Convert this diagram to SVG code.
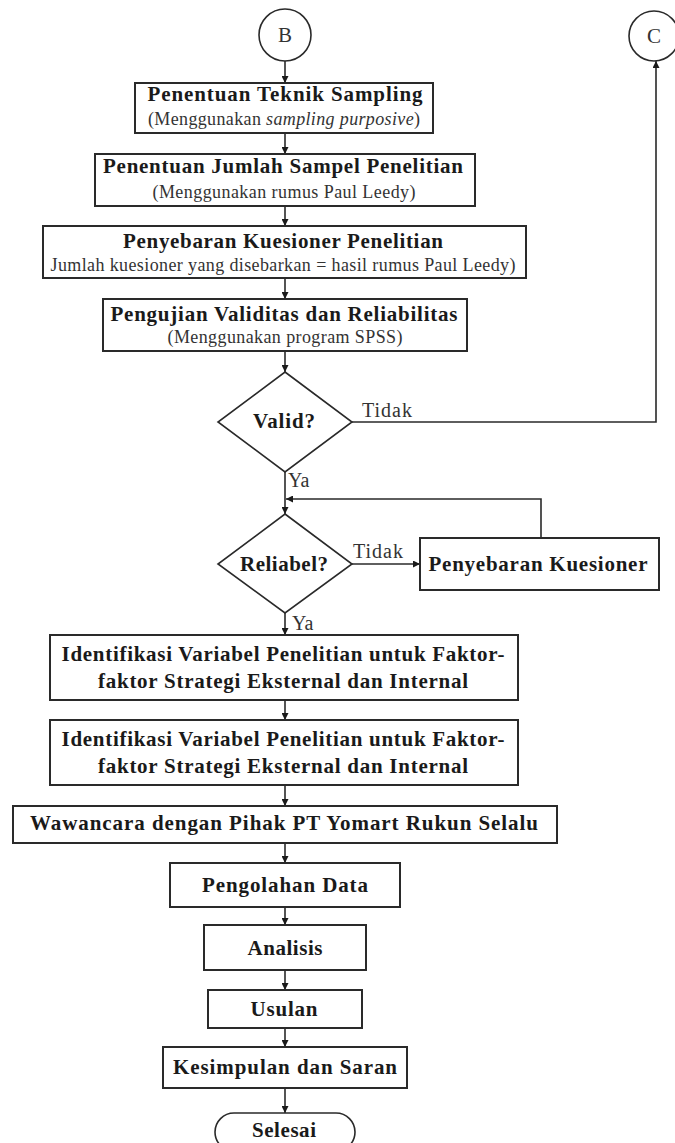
<svg xmlns="http://www.w3.org/2000/svg" width="675" height="1143" viewBox="0 0 675 1143">
<style>
.box{fill:#fff;stroke:#2a2a2a;stroke-width:2}
.ln{fill:none;stroke:#2a2a2a;stroke-width:1.6}
.h{font-family:"Liberation Serif",serif;font-weight:bold;font-size:21px;fill:#1a1a1a;text-anchor:middle}
.s{font-family:"Liberation Serif",serif;font-size:18px;fill:#333;text-anchor:middle}
.l{font-family:"Liberation Serif",serif;font-size:20px;fill:#333}
</style>
<defs>
<marker id="ah" viewBox="0 0 10 10" refX="10" refY="5" markerWidth="7" markerHeight="7" orient="auto" markerUnits="userSpaceOnUse">
<path d="M0,0 L10,5 L0,10 z" fill="#1a1a1a"/>
</marker>
</defs>
<g id="connectors">
<path class="ln" d="M285,61 V83" marker-end="url(#ah)"/>
<path class="ln" d="M285,133 V154" marker-end="url(#ah)"/>
<path class="ln" d="M285,206 V226" marker-end="url(#ah)"/>
<path class="ln" d="M285,278 V299" marker-end="url(#ah)"/>
<path class="ln" d="M285,351 V372" marker-end="url(#ah)"/>
<path class="ln" d="M352,422 H656 V61" marker-end="url(#ah)"/>
<path class="ln" d="M285,472 V514" marker-end="url(#ah)"/>
<path class="ln" d="M352,564 H420" marker-end="url(#ah)"/>
<path class="ln" d="M541,538 V499 H286" marker-end="url(#ah)"/>
<path class="ln" d="M285,613 V635" marker-end="url(#ah)"/>
<path class="ln" d="M285,700 V720" marker-end="url(#ah)"/>
<path class="ln" d="M285,785 V806" marker-end="url(#ah)"/>
<path class="ln" d="M285,843 V863" marker-end="url(#ah)"/>
<path class="ln" d="M285,907 V925" marker-end="url(#ah)"/>
<path class="ln" d="M285,970 V990" marker-end="url(#ah)"/>
<path class="ln" d="M285,1028 V1047" marker-end="url(#ah)"/>
<path class="ln" d="M285,1088 V1113" marker-end="url(#ah)"/>
<text class="l" x="362" y="417" textLength="50">Tidak</text>
<text class="l" x="288" y="487">Ya</text>
<text class="l" x="292" y="630">Ya</text>
<text class="l" x="353" y="558" textLength="50">Tidak</text>
</g>
<g id="nodeB">
<circle cx="285" cy="35" r="26" fill="#fff" stroke="#2a2a2a" stroke-width="1.6"/>
<text class="s" x="285" y="42" style="font-size:21px">B</text>
</g>
<g id="nodeC">
<circle cx="654" cy="36" r="25" fill="#fff" stroke="#2a2a2a" stroke-width="1.6"/>
<text class="s" x="654" y="43" style="font-size:21px">C</text>
</g>
<g id="n1">
<rect class="box" x="135" y="83" width="298" height="50"/>
<text class="h" x="285" y="101" textLength="275">Penentuan Teknik Sampling</text>
<text class="s" x="284" y="125" textLength="272">(Menggunakan <tspan font-style="italic">sampling purposive</tspan>)</text>
</g>
<g id="n2">
<rect class="box" x="95" y="154" width="380" height="52"/>
<text class="h" x="283" y="173" textLength="360">Penentuan Jumlah Sampel Penelitian</text>
<text class="s" x="284" y="198" textLength="263">(Menggunakan rumus Paul Leedy)</text>
</g>
<g id="n3">
<rect class="box" x="43" y="226" width="483" height="52"/>
<text class="h" x="283" y="248" textLength="320">Penyebaran Kuesioner Penelitian</text>
<text class="s" x="283" y="271" textLength="465">Jumlah kuesioner yang disebarkan = hasil rumus Paul Leedy)</text>
</g>
<g id="n4">
<rect class="box" x="103" y="299" width="364" height="52"/>
<text class="h" x="284" y="321" textLength="347">Pengujian Validitas dan Reliabilitas</text>
<text class="s" x="285" y="343" textLength="235">(Menggunakan program SPSS)</text>
</g>
<g id="valid">
<polygon points="285,372 352,422 285,472 218,422" fill="#fff" stroke="#2a2a2a" stroke-width="1.6"/>
<text class="h" x="284" y="428" textLength="62">Valid?</text>
</g>
<g id="reliabel">
<polygon points="285,514 352,564 285,613 218,564" fill="#fff" stroke="#2a2a2a" stroke-width="1.6"/>
<text class="h" x="284" y="571" textLength="88">Reliabel?</text>
</g>
<g id="pk">
<rect class="box" x="420" y="538" width="239" height="52"/>
<text class="h" x="538" y="571" textLength="219">Penyebaran Kuesioner</text>
</g>
<g id="id1">
<rect class="box" x="50" y="635" width="468" height="65"/>
<text class="h" x="283" y="661" textLength="443">Identifikasi Variabel Penelitian untuk Faktor-</text>
<text class="h" x="283" y="688" textLength="370">faktor Strategi Eksternal dan Internal</text>
</g>
<g id="id2">
<rect class="box" x="50" y="720" width="468" height="65"/>
<text class="h" x="283" y="746" textLength="443">Identifikasi Variabel Penelitian untuk Faktor-</text>
<text class="h" x="283" y="773" textLength="370">faktor Strategi Eksternal dan Internal</text>
</g>
<g id="waw">
<rect class="box" x="13" y="806" width="544" height="37"/>
<text class="h" x="284" y="830" textLength="508">Wawancara dengan Pihak PT Yomart Rukun Selalu</text>
</g>
<g id="peng">
<rect class="box" x="170" y="863" width="230" height="44"/>
<text class="h" x="285" y="892" textLength="166">Pengolahan Data</text>
</g>
<g id="anal">
<rect class="box" x="204" y="925" width="162" height="45"/>
<text class="h" x="285" y="955" textLength="75">Analisis</text>
</g>
<g id="usul">
<rect class="box" x="208" y="990" width="154" height="38"/>
<text class="h" x="284" y="1016" textLength="67">Usulan</text>
</g>
<g id="kes">
<rect class="box" x="163" y="1047" width="244" height="41"/>
<text class="h" x="285" y="1074" textLength="224">Kesimpulan dan Saran</text>
</g>
<g id="selesai">
<rect x="215" y="1113" width="140" height="38" rx="19" fill="#fff" stroke="#2a2a2a" stroke-width="1.6"/>
<text class="h" x="284" y="1137" textLength="64">Selesai</text>
</g>
</svg>
